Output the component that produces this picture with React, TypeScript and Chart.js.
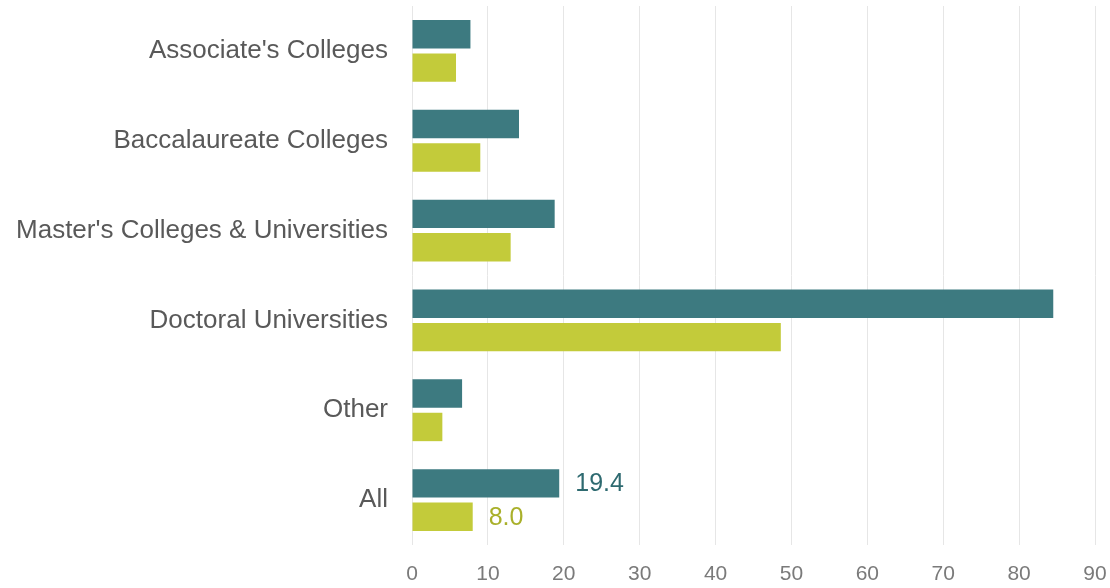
import React, { useEffect, useRef } from "react";
import { Chart, registerables } from "chart.js";

Chart.register(...registerables);

const categories = [
  "Associate's Colleges",
  "Baccalaureate Colleges",
  "Master's Colleges & Universities",
  "Doctoral Universities",
  "Other",
  "All",
];
const tealValues = [7.7, 14.1, 18.8, 84.5, 6.6, 19.4];
const greenValues = [5.8, 9.0, 13.0, 48.6, 4.0, 8.0];
const labeledCategories = ["All"];
const xMin = 0;
const xMax = 90;
const xStep = 10;

const TEAL = "#3d7a80";
const GREEN = "#c3cb3a";
const TEAL_TEXT = "#2e6a70";
const GREEN_TEXT = "#a9b02a";
const FONT = "'Liberation Sans', Arial, sans-serif";

const valueLabelPlugin = {
  id: "valueLabels",
  afterDatasetsDraw(chart: any) {
    const ctx = chart.ctx;
    const colors = [TEAL_TEXT, GREEN_TEXT];
    chart.data.datasets.forEach((ds: any, di: number) => {
      const meta = chart.getDatasetMeta(di);
      meta.data.forEach((bar: any, i: number) => {
        if (!labeledCategories.includes(categories[i])) return;
        const v = ds.data[i] as number;
        ctx.save();
        ctx.font = `25px ${FONT}`;
        ctx.fillStyle = colors[di];
        ctx.textAlign = "left";
        ctx.textBaseline = "middle";
        ctx.fillText(v.toFixed(1), bar.x + 16, bar.y + 1);
        ctx.restore();
      });
    });
  },
};

export default function App() {
  const canvasRef = useRef<HTMLCanvasElement | null>(null);

  useEffect(() => {
    if (!canvasRef.current) return;
    const chart = new Chart(canvasRef.current, {
      type: "bar",
      data: {
        labels: categories,
        datasets: [
          {
            label: "Series 1",
            data: tealValues,
            backgroundColor: TEAL,
            categoryPercentage: 0.744,
            barPercentage: 0.85,
          },
          {
            label: "Series 2",
            data: greenValues,
            backgroundColor: GREEN,
            categoryPercentage: 0.744,
            barPercentage: 0.85,
          },
        ],
      },
      options: {
        indexAxis: "y",
        animation: false,
        responsive: false,
        maintainAspectRatio: false,
        layout: { padding: { top: 6, right: 15, left: 0, bottom: 0 } },
        plugins: {
          legend: { display: false },
          tooltip: { enabled: false },
        },
        scales: {
          x: {
            min: xMin,
            max: xMax,
            ticks: {
              stepSize: xStep,
              color: "#7a7a7a",
              font: { family: FONT, size: 21 },
              padding: 17,
            },
            grid: { color: "#e6e6e6", lineWidth: 1, drawTicks: false },
            border: { display: false },
            afterFit: (scale: any) => {
              scale.height = 43;
              scale.paddingLeft = 0;
              scale.paddingRight = 0;
            },
          },
          y: {
            ticks: {
              color: "#595959",
              font: { family: FONT, size: 26 },
              padding: 24,
            },
            grid: { display: false, drawTicks: false },
            border: { display: false },
            afterFit: (scale: any) => {
              scale.width = 412;
              scale.paddingTop = 0;
              scale.paddingBottom = 0;
            },
          },
        },
      },
      plugins: [valueLabelPlugin],
    });
    return () => chart.destroy();
  }, []);

  return (
    <div style={{ position: "fixed", left: 0, top: 0, width: 1110, height: 588, background: "#fff" }}>
      <canvas ref={canvasRef} width={1110} height={588} style={{ width: 1110, height: 588 }} />
    </div>
  );
}
